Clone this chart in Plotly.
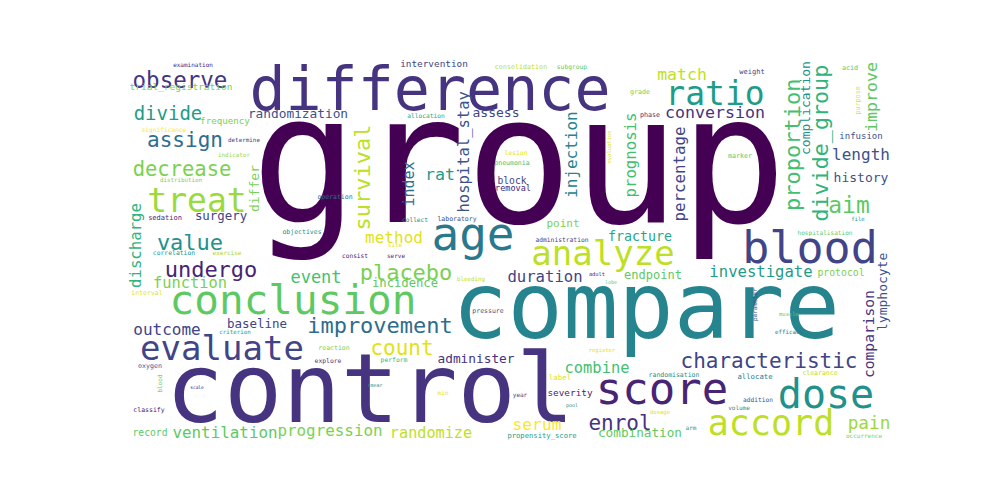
import plotly.graph_objects as go

# ---------------- data: words and their weights (font size units) ----------------
WORDS_H = [
    "group", "difference", "compare", "control", "conclusion", "age", "blood", "dose",
    "accord", "score", "analyze", "evaluate", "treat", "ratio", "observe", "assign",
    "decrease", "divide", "value", "undergo", "placebo", "improvement", "count",
    "characteristic", "enrol", "aim", "event", "match", "conversion", "rat", "method",
    "duration", "outcome", "function", "investigate", "ventilation", "progression",
    "randomize", "length", "history", "combine", "serum", "pain", "incidence", "endpoint",
    "fracture", "combination", "administer", "baseline", "randomization", "surgery",
    "assess", "point", "frequency", "trial_registration", "intervention", "severity",
    "protocol", "block", "removal", "infusion", "record", "label", "allocate",
    "examination", "significance", "determine", "indicator", "distribution", "allocation",
    "consolidation", "subgroup", "grade", "phase", "lesion", "pneumonia", "weight", "acid",
    "marker", "sedation", "objectives", "correlation", "exercise", "interval", "operation",
    "collect", "laboratory", "site", "consist", "serve", "bleeding", "pressure",
    "administration", "adult", "lobe", "file", "hospitalisation", "muscle", "criterion",
    "oxygen", "scale", "classify", "reaction", "explore", "perform", "smear", "min",
    "register", "randomisation", "year", "pool", "dosage", "propensity_score", "efficacy",
    "clearance", "addition", "volume", "arm", "occurrence",
]
WEIGHTS_H = [
    178, 60, 92, 97, 41, 46, 45, 40,
    35, 44, 34, 34, 33, 33, 22.5, 21,
    20.5, 19, 22, 22, 22, 22, 21,
    21, 21, 23, 17, 16.5, 16.6, 16.6, 16,
    15.6, 16, 15.4, 15.6, 15.9, 15.9,
    15.2, 16, 13, 15.4, 16.3, 17.7, 12.2, 12,
    13.3, 12.7, 12.8, 12.5, 12.8, 12.4,
    13, 11, 9.2, 9.5, 9.4, 9.4,
    9.8, 9.7, 8.5, 9, 9.7, 7.5, 7.3,
    6, 6.2, 5.9, 5.9, 5.8, 6.2,
    6.7, 6.3, 6.7, 6.7, 6.4, 6.5, 7, 6.7,
    6.7, 7, 6.5, 6.4, 6, 6.5, 6.5,
    6.2, 6.5, 6, 6.2, 6, 5.8, 6.5,
    6.3, 5.4, 5, 5.6, 6.1, 5.5, 5.8,
    6.6, 4.5, 6.5, 6.5, 6.4, 6.4, 5, 6,
    5.5, 6.5, 6, 5, 5.6, 7.2, 5.8,
    6.5, 6.2, 6, 6, 6,
]

WORDS_V = [
    "survival", "index", "hospital_stay", "injection", "prognosis", "percentage",
    "proportion", "complication", "divide_group", "improve", "purpose", "discharge",
    "differ", "evaluation", "parameter", "blood", "comparison", "lymphocyte",
]
WEIGHTS_V = [22, 15, 15.5, 16, 15.7, 15.8, 22, 13, 21.7, 16.6, 6.7, 15.7, 13, 5.5, 6, 6, 14.6, 13]

# ---------------- layout of the cloud (canvas pixels) ----------------
POS_H_X = [
    519, 430, 646, 370, 293, 473, 810, 826,
    771, 662, 603, 222, 197, 715, 180, 185,
    182, 168, 190, 211, 406, 380, 402,
    769, 620, 849, 316, 682, 715, 440, 394,
    545, 167, 190, 761, 225, 330,
    431, 861, 861, 597, 537, 869, 405, 653,
    640, 640, 476, 257, 298, 221,
    496, 563, 225, 181, 434, 570,
    841, 512, 513, 861, 150, 560, 755,
    193, 164, 244, 234, 181, 426,
    521, 572, 640, 650, 516, 512, 752, 850,
    740, 165, 302, 174, 227, 147, 335,
    415, 457, 395, 355, 396, 471, 488,
    562, 597, 611, 858, 825, 789, 235,
    150, 197, 149, 334, 328, 394, 375, 443,
    602, 674, 520, 572, 660, 542, 789,
    820, 758, 739, 691, 864,
]
POS_H_Y = [
    177.5, 95, 315, 397.75, 303.75, 238.5, 251.75, 398,
    426.25, 393, 256.5, 351.5, 203.75, 96.75, 82.4, 141.75,
    170.9, 115.25, 244.5, 271.5, 274.5, 327.5, 349.75,
    362.75, 424.75, 207.25, 278.75, 75.9, 113.85, 175.85, 239,
    278.1, 331, 284.15, 273.1, 434, 432,
    434.2, 156, 178.75, 369.15, 425.9, 424.6, 284, 276,
    237.7, 433.8, 359.8, 324.9, 114.8, 216.9,
    113.75, 223.75, 121.7, 87.5, 64.5, 394,
    274, 182, 189, 137, 434, 378, 377,
    65, 130, 140.5, 156, 181, 116,
    67, 67, 92, 115, 153, 163, 72.5, 68,
    156, 218, 232, 253, 253, 293.5, 197,
    220, 219, 245.5, 256, 256, 280, 311,
    240, 275, 282.5, 220, 233, 315, 333,
    366, 388, 410, 348, 361, 360, 385.5, 393,
    351, 375, 395, 406, 413, 436, 333,
    373, 400, 408, 428, 436,
]
POS_V_X = [362, 408, 463, 571, 630, 679, 792, 805.5, 820, 871, 857.5, 135.5, 254.5, 608, 755, 158.5, 868, 882]
POS_V_Y = [177.5, 184.5, 152.5, 155, 155.5, 174.5, 145, 108.5, 143.5, 97, 101, 245.5, 188.5, 147.5, 305, 384, 334, 292]

VIR = {
    0: "#440154", 5: "#471365", 10: "#482475", 15: "#463480", 20: "#414487",
    25: "#3b528b", 30: "#355f8d", 35: "#2f6c8e", 40: "#2a788e", 45: "#25848e",
    50: "#21918c", 55: "#1e9c89", 60: "#22a884", 65: "#2fb47c", 70: "#44bf70",
    75: "#5ec962", 80: "#7ad151", 85: "#9bd93c", 90: "#bddf26", 95: "#dfe318",
    100: "#fde725",
}
COLOR_H = [
    0, 15, 45, 15, 75, 40, 20, 50,
    90, 10, 90, 20, 85, 55, 15, 35,
    80, 55, 50, 10, 80, 35, 95,
    20, 15, 75, 70, 90, 15, 55, 95,
    20, 20, 80, 55, 75, 80,
    90, 25, 25, 70, 100, 85, 75, 75,
    60, 75, 15, 20, 25, 20,
    20, 80, 80, 80, 20, 10,
    80, 20, 10, 25, 75, 95, 40,
    10, 100, 20, 85, 80, 60,
    90, 75, 80, 15, 95, 70, 20, 75,
    75, 10, 50, 50, 85, 95, 35,
    50, 25, 95, 10, 10, 90, 25,
    20, 15, 75, 50, 75, 75, 55,
    25, 10, 10, 80, 15, 65, 50, 95,
    95, 50, 20, 50, 95, 55, 40,
    90, 25, 50, 50, 80,
]
COLOR_V = [90, 35, 25, 45, 70, 20, 70, 50, 65, 75, 95, 65, 80, 95, 25, 75, 15, 25]

FONT = "DejaVu Sans Mono, Droid Sans Mono, monospace"
PAGE_OFFSET = 8  # default body margin of the html page

fig = go.Figure()
fig.add_trace(go.Scatter(
    x=POS_H_X, y=POS_H_Y, mode="text", text=WORDS_H,
    textposition="middle center",
    textfont=dict(family=FONT, size=WEIGHTS_H, color=[VIR[c] for c in COLOR_H]),
    hoverinfo="skip", cliponaxis=False, showlegend=False,
))

annotations = []
for w, s, x, y, c in zip(WORDS_V, WEIGHTS_V, POS_V_X, POS_V_Y, COLOR_V):
    annotations.append(dict(
        x=x, y=y, xref="x", yref="y", text=w, showarrow=False, textangle=-90,
        xanchor="center", yanchor="middle", borderpad=0, borderwidth=0,
        font=dict(family=FONT, size=s, color=VIR[c]),
    ))

fig.update_layout(
    width=1000, height=500, autosize=False,
    margin=dict(l=0, r=0, t=0, b=0),
    paper_bgcolor="white", plot_bgcolor="white",
    xaxis=dict(range=[PAGE_OFFSET, 1000 + PAGE_OFFSET], visible=False, domain=[0, 1], fixedrange=True),
    yaxis=dict(range=[500 + PAGE_OFFSET, PAGE_OFFSET], visible=False, domain=[0, 1], fixedrange=True),
    annotations=annotations,
)
fig.write_html("out.html")
